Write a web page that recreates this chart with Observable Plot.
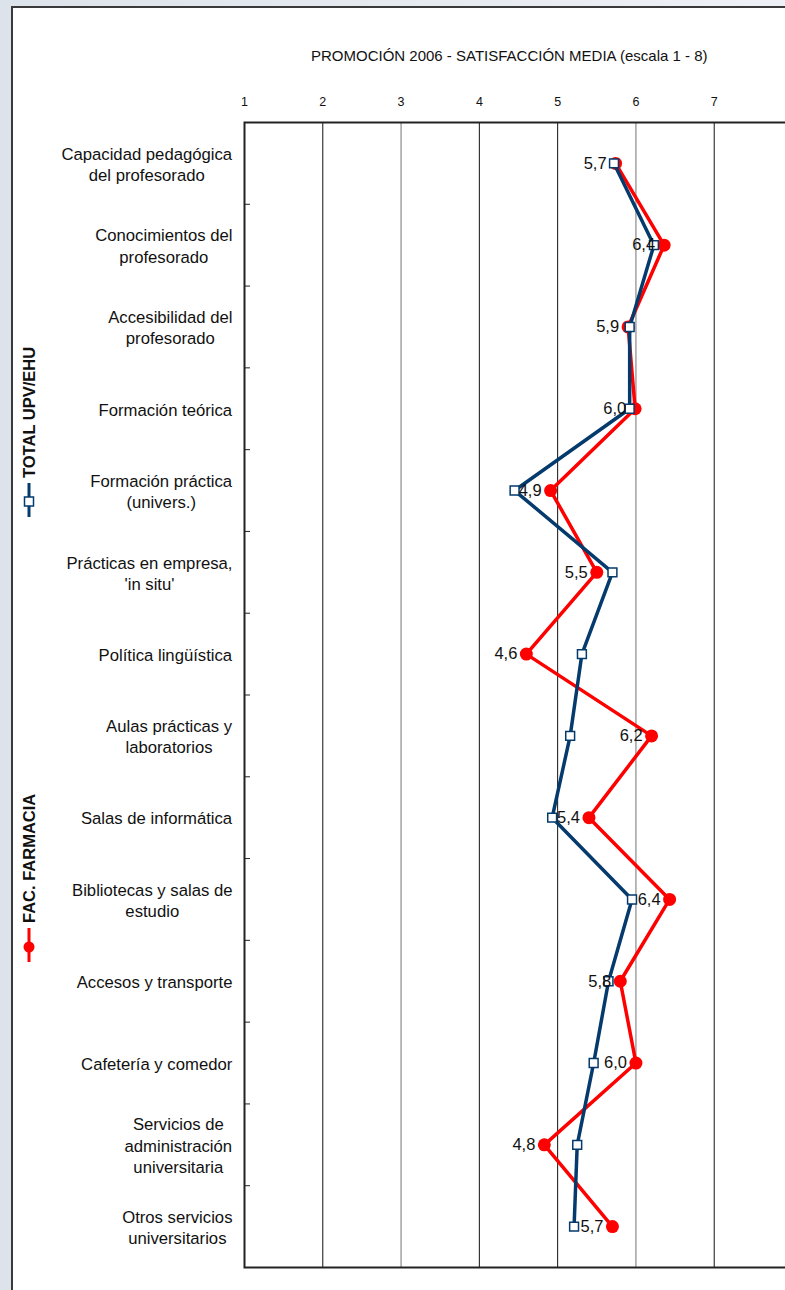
<!DOCTYPE html>
<html>
<head>
<meta charset="utf-8">
<script src="https://cdn.jsdelivr.net/npm/d3@7"></script>
<script src="https://cdn.jsdelivr.net/npm/@observablehq/plot@0.6"></script>
<style>
  html, body { margin: 0; padding: 0; }
  body { width: 785px; height: 1290px; overflow: hidden; position: relative;
         background: linear-gradient(90deg, #dde3ea, #eef1f5); font-family: "Liberation Sans", Arial, sans-serif; }
  #page { position: absolute; left: 11px; top: 6px; right: 0; bottom: 0; background: #fff;
          border-left: 2px solid #3a3a3a; border-top: 2px solid #3a3a3a; }
  #title { position: absolute; top: 47px; left: 311px; font-size: 15px; color: #111; white-space: nowrap; }
  #chart { position: absolute; left: 0; top: 80px; width: 800px; }
  #chart svg { max-width: none !important; }
  .legend { position: absolute; transform-origin: left top; transform: rotate(-90deg);
            display: flex; align-items: center; height: 20px; white-space: nowrap;
            font-weight: bold; font-size: 16.5px; color: #111; }
  .legend svg { margin-right: 3px; }
</style>
</head>
<body>
<div id="page"></div>
<div id="title">PROMOCIÓN 2006 - SATISFACCIÓN MEDIA (escala 1 - 8)</div>
<div id="chart"></div>
<div class="legend" id="leg1" style="left:19px; top:518px;"></div>
<div class="legend" id="leg2" style="left:19px; top:963px;"></div>
<script>
const categories = [
  "Capacidad pedagógica\ndel profesorado",
  "Conocimientos del\nprofesorado",
  "Accesibilidad del\nprofesorado",
  "Formación teórica",
  "Formación práctica\n(univers.)",
  "Prácticas en empresa,\n'in situ'",
  "Política lingüística",
  "Aulas prácticas y\nlaboratorios",
  "Salas de informática",
  "Bibliotecas y salas de\nestudio",
  "Accesos y transporte",
  "Cafetería y comedor",
  "Servicios de\nadministración\nuniversitaria",
  "Otros servicios\nuniversitarios"
];
const totalUPV = [5.72, 6.23, 5.92, 5.92, 4.45, 5.70, 5.31, 5.16, 4.93, 5.95, 5.65, 5.46, 5.25, 5.21];
const farmacia = [5.74, 6.36, 5.90, 5.99, 4.91, 5.50, 4.60, 6.20, 5.40, 6.43, 5.80, 6.00, 4.83, 5.70];
const xTicks = [1, 2, 3, 4, 5, 6, 7];
const seriesNames = ["TOTAL UPV/EHU", "FAC. FARMACIA"];
const colors = {total: "#053a6d", farm: "#ff0000"};

const rows = categories.map((c, i) => ({cat: c, pos: i + 0.5, total: totalUPV[i], farm: farmacia[i]}));
const fmt = v => d3.format(".1f")(v).replace(".", ",");

const chart = Plot.plot({
  width: 800,
  height: 1210,
  marginLeft: 244,
  marginRight: 8,
  marginTop: 42,
  marginBottom: 23,
  style: {fontFamily: "'Liberation Sans', Arial, sans-serif", fontSize: "12px", color: "#111", background: "transparent"},
  x: {domain: [1, 8]},
  y: {domain: [0, categories.length], reverse: true},
  marks: [
    Plot.ruleX([2, 4, 5, 7], {stroke: "#111", strokeWidth: 1}),
    Plot.ruleX([3, 6], {stroke: "#8a8a8a", strokeWidth: 1.2}),
    Plot.frame({stroke: "#222", strokeWidth: 2}),
    Plot.axisX(xTicks, {anchor: "top", tickSize: 0, tickPadding: 17, fontSize: 12.5, label: null, fill: "#111"}),
    Plot.axisY(d3.range(1, categories.length), {anchor: "left", tickSize: -6, tickFormat: () => "", label: null, stroke: "#222"}),
    Plot.axisY(rows.map(d => d.pos), {anchor: "left", tickSize: 0, tickPadding: 12, fontSize: 16.7, lineHeight: 1.27,
      tickFormat: d => categories[Math.floor(d)], label: null, fill: "#111"}),
    Plot.line(rows, {x: "farm", y: "pos", stroke: colors.farm, strokeWidth: 3.5}),
    Plot.dot(rows, {x: "farm", y: "pos", r: 6.5, fill: colors.farm, stroke: "none"}),
    Plot.line(rows, {x: "total", y: "pos", stroke: colors.total, strokeWidth: 3.5}),
    Plot.dot(rows, {x: "total", y: "pos", symbol: "square", r: 5, fill: "white", stroke: colors.total, strokeWidth: 1.5}),
    Plot.text(rows, {x: "farm", y: "pos", text: d => fmt(d.farm), textAnchor: "end", dx: -9, fontSize: 16.5, fill: "#111"})
  ]
});
document.getElementById("chart").appendChild(chart);

// Excel-like wrapped labels: lines centered on each other, block right-aligned to the axis
chart.querySelectorAll('g[aria-label="y-axis tick label"] text').forEach(t => {
  if (!t.textContent.trim()) return;
  const w = t.getBBox().width;
  t.setAttribute("text-anchor", "middle");
  t.setAttribute("transform", (t.getAttribute("transform") || "") + ` translate(${-w / 2},0)`);
});

// legend
document.getElementById("leg1").innerHTML =
  `<svg width="37" height="20"><line x1="1" x2="35" y1="10" y2="10" stroke="${colors.total}" stroke-width="3"/>` +
  `<rect x="12" y="5.5" width="9" height="9" fill="white" stroke="${colors.total}" stroke-width="1.5"/></svg>` +
  `<span>${seriesNames[0]}</span>`;
document.getElementById("leg2").innerHTML =
  `<svg width="37" height="20"><line x1="1" x2="35" y1="10" y2="10" stroke="${colors.farm}" stroke-width="3"/>` +
  `<circle cx="16" cy="10" r="5.5" fill="${colors.farm}"/></svg>` +
  `<span>${seriesNames[1]}</span>`;
</script>
</body>
</html>
